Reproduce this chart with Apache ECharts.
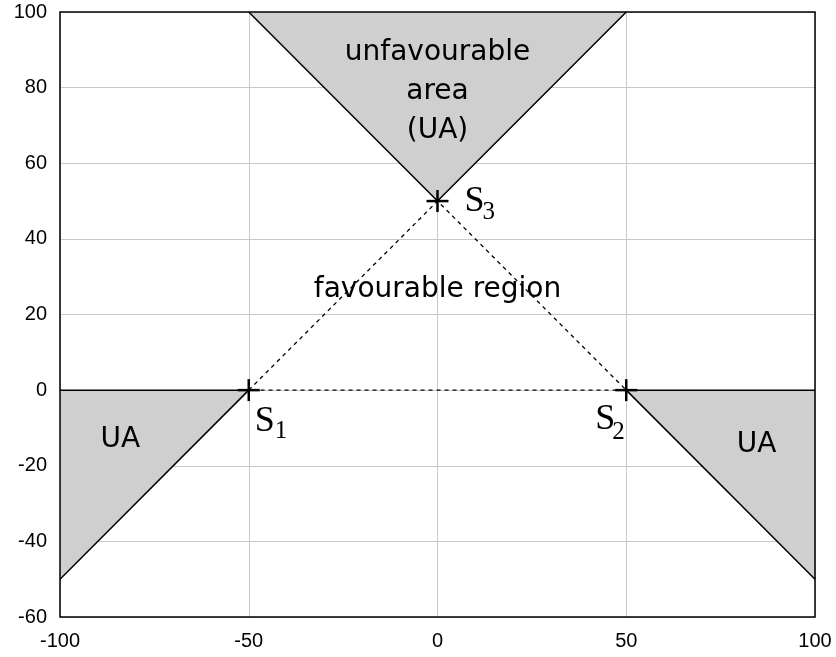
<!DOCTYPE html>
<html>
<head>
<meta charset="utf-8">
<script src="https://cdn.jsdelivr.net/npm/echarts@6/dist/echarts.min.js"></script>
<style>
html,body{margin:0;padding:0;background:#fff;}
#chart{width:836px;height:657px;}
</style>
</head>
<body>
<div id="chart"></div>
<script>
// Axis ranges and ticks
const xTicks = [-100, -50, 0, 50, 100];
const yTicks = [-60, -40, -20, 0, 20, 40, 60, 80, 100];

// Shaded unfavourable areas (polygons as [x, y] vertices)
const topArea = [[-50, 100], [0, 50], [50, 100]];
const leftArea = [[-100, 0], [-50, 0], [-100, -50]];
const rightArea = [[50, 0], [100, 0], [100, -50]];

// Solid boundary lines
const topEdge = [[-50, 100], [0, 50], [50, 100]];
const leftEdge = [[-100, 0], [-50, 0], [-100, -50]];
const rightEdge = [[100, 0], [50, 0], [100, -50]];

// Dotted favourable-region triangle
const favTriangle = [[-50, 0], [0, 50], [50, 0], [-50, 0]];

// Special points S1, S2, S3
const points = [[-50, 0], [50, 0], [0, 50]];
const pointNames = ['1', '2', '3'];

// Text annotations
const annotations = [
  { pos: [0, 78.8], text: 'unfavourable\narea\n(UA)' },
  { pos: [0, 26.6], text: 'favourable region' },
  { pos: [-84, -13], text: 'UA' },
  { pos: [84.5, -14.5], text: 'UA' }
];

const chart = echarts.init(document.getElementById('chart'));

function polygonSeries(pts) {
  return {
    type: 'custom',
    data: [0],
    silent: true,
    z: 1,
    renderItem: function (params, api) {
      return {
        type: 'polygon',
        shape: { points: pts.map(p => api.coord(p)) },
        style: { fill: '#cfcfcf', stroke: 'none' }
      };
    }
  };
}

function lineSeries(pts, dashed) {
  return {
    type: 'line',
    data: pts,
    symbol: 'none',
    silent: true,
    z: 3,
    lineStyle: {
      color: '#000',
      width: dashed ? 1.3 : 1.5,
      type: dashed ? [4, 4] : 'solid'
    }
  };
}

// Label placement relative to each point: [S dx, S dy, subscript dx, subscript dy]
const labelOffsets = [[6, 31, 26, 41], [-31, 29, -14, 42], [27, 0, 45, 11]];
const serif = 'Liberation Serif, DejaVu Serif, serif';

chart.setOption({
  animation: false,
  backgroundColor: '#fff',
  grid: { left: 60, right: 21, top: 12, bottom: 40, containLabel: false },
  xAxis: {
    type: 'value',
    min: xTicks[0],
    max: xTicks[xTicks.length - 1],
    interval: 50,
    axisLine: { show: false },
    axisTick: { show: false },
    splitLine: { show: true, lineStyle: { color: '#c8c8c8', width: 1 } },
    axisLabel: { color: '#000', fontSize: 20, fontFamily: 'Liberation Sans, Arial, sans-serif', margin: 14 }
  },
  yAxis: {
    type: 'value',
    min: yTicks[0],
    max: yTicks[yTicks.length - 1],
    interval: 20,
    axisLine: { show: false },
    axisTick: { show: false },
    splitLine: { show: true, lineStyle: { color: '#c8c8c8', width: 1 } },
    axisLabel: { color: '#000', fontSize: 20, fontFamily: 'Liberation Sans, Arial, sans-serif', margin: 13 }
  },
  series: [
    polygonSeries(topArea),
    polygonSeries(leftArea),
    polygonSeries(rightArea),
    lineSeries(topEdge, false),
    lineSeries(leftEdge, false),
    lineSeries(rightEdge, false),
    lineSeries(favTriangle, true),
    {
      // Plot border
      type: 'custom',
      data: [0],
      silent: true,
      z: 5,
      renderItem: function (params, api) {
        const tl = api.coord([xTicks[0], yTicks[yTicks.length - 1]]);
        const br = api.coord([xTicks[xTicks.length - 1], yTicks[0]]);
        return {
          type: 'rect',
          shape: { x: tl[0], y: tl[1], width: br[0] - tl[0], height: br[1] - tl[1] },
          style: { fill: 'none', stroke: '#000', lineWidth: 1.5 }
        };
      }
    },
    {
      // '+' markers with S_i labels
      type: 'custom',
      data: points.map((p, i) => [p[0], p[1], i]),
      silent: true,
      z: 6,
      renderItem: function (params, api) {
        const c = api.coord([api.value(0), api.value(1)]);
        const i = api.value(2);
        const h = 11;
        const off = labelOffsets[i];
        return {
          type: 'group',
          children: [
            { type: 'line', shape: { x1: c[0] - h, y1: c[1], x2: c[0] + h, y2: c[1] }, style: { stroke: '#000', lineWidth: 2.5 } },
            { type: 'line', shape: { x1: c[0], y1: c[1] - h, x2: c[0], y2: c[1] + h }, style: { stroke: '#000', lineWidth: 2.5 } },
            {
              type: 'text',
              x: c[0] + off[0],
              y: c[1] + off[1],
              style: { text: 'S', align: 'left', verticalAlign: 'middle', fontFamily: serif, fontSize: 36, fill: '#000' }
            },
            {
              type: 'text',
              x: c[0] + off[2],
              y: c[1] + off[3],
              style: { text: pointNames[i], align: 'left', verticalAlign: 'middle', fontFamily: serif, fontSize: 25, fill: '#000' }
            }
          ]
        };
      }
    },
    {
      // Region annotations
      type: 'custom',
      data: annotations.map((a, i) => [a.pos[0], a.pos[1], i]),
      silent: true,
      z: 7,
      renderItem: function (params, api) {
        const c = api.coord([api.value(0), api.value(1)]);
        const a = annotations[api.value(2)];
        return {
          type: 'text',
          x: c[0],
          y: c[1],
          style: {
            text: a.text,
            align: 'center',
            verticalAlign: 'middle',
            fontFamily: 'DejaVu Sans, sans-serif',
            fontSize: 28,
            lineHeight: 39,
            fill: '#000'
          }
        };
      }
    }
  ]
});
</script>
</body>
</html>
